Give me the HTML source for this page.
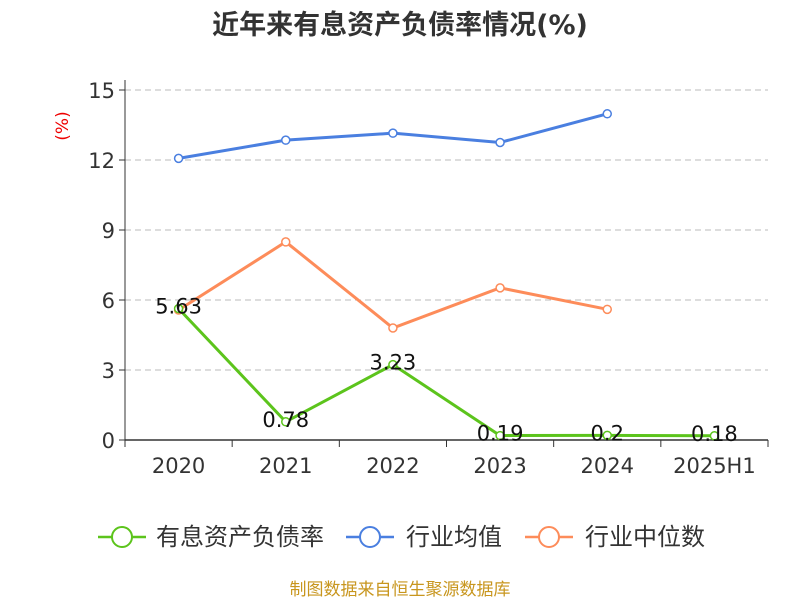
<!DOCTYPE html>
<html><head><meta charset="utf-8"><style>
body{margin:0;background:#fff;font-family:"DejaVu Sans","Noto Sans CJK SC",sans-serif}
svg text{font-family:"DejaVu Sans","Noto Sans CJK SC",sans-serif}
</style></head><body>
<svg id="c" width="800" height="600">
<text x="400" y="34" text-anchor="middle" font-size="27" font-weight="bold" fill="#333">近年来有息资产负债率情况(%)</text>
<text x="68" y="126" text-anchor="middle" font-size="17" fill="#e00" transform="rotate(-90 68 126)">(%)</text>
<g id="grid"></g><g id="axes"></g><g id="series"></g>
<g>
<g><line x1="98" y1="537" x2="146" y2="537" stroke="#5cc41c" stroke-width="2.5"/><circle cx="122" cy="537" r="10" fill="#fff" stroke="#5cc41c" stroke-width="2"/><text x="156" y="545" font-size="24" fill="#333">有息资产负债率</text></g>
<g><line x1="346" y1="537" x2="394" y2="537" stroke="#4a7fe0" stroke-width="2.5"/><circle cx="370" cy="537" r="10" fill="#fff" stroke="#4a7fe0" stroke-width="2"/><text x="406" y="545" font-size="24" fill="#333">行业均值</text></g>
<g><line x1="525" y1="537" x2="573" y2="537" stroke="#fd8c5a" stroke-width="2.5"/><circle cx="549" cy="537" r="10" fill="#fff" stroke="#fd8c5a" stroke-width="2"/><text x="585" y="545" font-size="24" fill="#333">行业中位数</text></g>
</g>
<text x="400" y="595" text-anchor="middle" font-size="17" fill="#c8961e">制图数据来自恒生聚源数据库</text>
</svg>
<script>
const categories=["2020","2021","2022","2023","2024","2025H1"];
const debtRatio=[5.63,0.78,3.23,0.19,0.2,0.18];
const industryAvg=[12.07,12.85,13.15,12.75,13.98];
const industryMedian=[5.57,8.49,4.8,6.52,5.6];
const yTicks=[0,3,6,9,12,15];
const NS="http://www.w3.org/2000/svg";
const x0=125,x1=768,y0=440,y1=90,yMax=15;
const bw=(x1-x0)/categories.length;
const X=i=>x0+bw*(i+0.5);
const Y=v=>y0-(v/yMax)*(y0-y1);
function mk(tag,attrs,parent){const e=document.createElementNS(NS,tag);for(const k in attrs)e.setAttribute(k,attrs[k]);parent.appendChild(e);return e;}
const grid=document.getElementById('grid'),axes=document.getElementById('axes'),ser=document.getElementById('series');
yTicks.forEach(t=>{
 if(t>0){const l=mk('line',{x1:x0,x2:x1,y1:Y(t),y2:Y(t),stroke:'#bbb','stroke-dasharray':'6,4'},grid);
 
 }
 const tk=mk('line',{x1:x0-6,x2:x0,y1:Y(t),y2:Y(t),stroke:'#333'},axes);
 
 
 const tx=mk('text',{x:x0-10,y:Y(t)+8,'text-anchor':'end','font-size':'21',fill:'#333'},axes);tx.textContent=t;
 
 
});
const ya=mk('line',{x1:x0,x2:x0,y1:y1-10,y2:y0,stroke:'#333'},axes);


const xa=mk('line',{x1:x0,x2:x1,y1:y0,y2:y0,stroke:'#333','stroke-width':1.5},axes);


for(let i=0;i<=categories.length;i++){const t=mk('line',{x1:x0+bw*i,x2:x0+bw*i,y1:y0,y2:y0+7,stroke:'#333'},axes);
 
 }
categories.forEach((c,i)=>{const t=mk('text',{x:X(i),y:473,'text-anchor':'middle','font-size':'21',fill:'#333'},axes);t.textContent=c;
 
 });
function series(data,color,name,labels){
 const g=mk('g',{},ser);
 
 
 mk('polyline',{points:data.map((v,i)=>X(i)+','+Y(v)).join(' '),fill:'none',stroke:color,'stroke-width':3},g);
 data.forEach((v,i)=>{const c=mk('circle',{cx:X(i),cy:Y(v),r:4,fill:'#fff',stroke:color,'stroke-width':1.5},g);
  
  
  if(labels){const t=mk('text',{x:X(i),y:Y(v)+5,'text-anchor':'middle','font-size':'21',fill:'#111'},g);t.textContent=v;
   
   }
 });
}
series(industryAvg,'#4a7fe0','industry-avg-line',false);
series(industryMedian,'#fd8c5a','industry-median-line',false);
series(debtRatio,'#5cc41c','debt-ratio-line',true);
</script>
</body></html>
